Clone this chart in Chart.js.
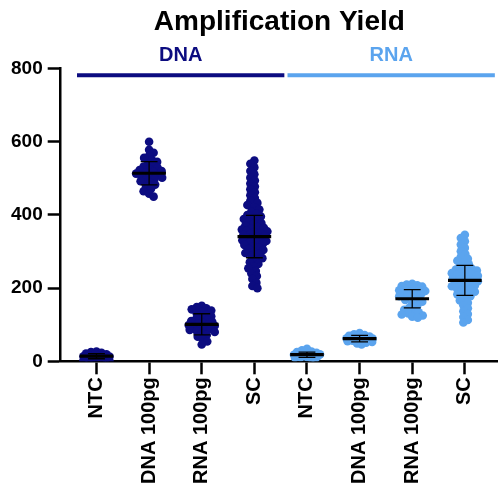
<!DOCTYPE html>
<html>
<head>
<meta charset="utf-8">
<script src="https://cdn.jsdelivr.net/npm/chart.js@4.4.1/dist/chart.umd.min.js"></script>
<style>
  html, body { margin: 0; padding: 0; background: #fff; }
  canvas { display: block; }
</style>
</head>
<body>
<canvas id="mycanvas" width="498" height="493"></canvas>
<script>
// x categories, two groups of four
var categories = ["NTC", "DNA 100pg", "RNA 100pg", "SC", "NTC", "DNA 100pg", "RNA 100pg", "SC"];
var groupOf = [0, 0, 0, 0, 1, 1, 1, 1];
var groupNames = ["DNA", "RNA"];
var groupColors = ["#0c0c80", "#5ba4ee"];
var yTicks = [0, 200, 400, 600, 800];

// yield per sample
var dnaNtc = [27, 25, 23, 21, 19, 18, 17, 16, 15, 14, 13, 12, 11, 10, 9, 8, 7, 5, 3, 1];
var dnaDna100 = [600, 578, 570, 562, 556, 550, 545, 540, 536, 532, 529, 526, 523, 520, 518, 515, 513, 510, 508, 505, 502, 499, 496, 492, 488, 483, 478, 472, 465, 458, 450];
var dnaRna100 = [152, 148, 145, 142, 139, 135, 131, 127, 123, 119, 116, 113, 110, 108, 105, 103, 101, 99, 97, 95, 93, 91, 89, 86, 83, 80, 76, 72, 67, 61, 54, 46];
var dnaSc = [549, 540, 530, 520, 511, 502, 494, 486, 478, 470, 462, 454, 446,
  439, 433, 427, 421, 415, 409, 403, 400, 396, 393, 389, 386, 382, 378, 375, 371,
  367, 365, 362, 360, 357, 355, 353, 350, 348, 345, 343, 341, 338, 336, 333, 331, 329, 326, 324, 321,
  318, 314, 311, 307, 304, 300, 296, 293, 288, 282, 277, 271, 266, 260,
  254, 247, 240, 233, 225, 215, 206, 200];
var rnaNtc = [34, 30, 27, 25, 23, 21, 20, 19, 18, 17, 16, 15, 14, 13, 12, 11, 10, 8, 6];
var rnaDna100 = [77, 74, 72, 70, 68, 67, 66, 65, 64, 63, 62, 61, 60, 59, 58, 57, 56, 55, 53, 51, 49, 46];
var rnaRna100 = [212, 210, 208, 206, 204, 202, 200, 198, 196, 194, 192, 190, 188, 186, 184, 181, 178, 175, 172, 168, 163, 158, 152, 146, 141, 137, 134, 131, 128, 125, 122, 119];
var rnaSc = [346, 337, 328, 319, 310, 301, 293, 286, 280, 275, 270, 265, 260, 256,
  253, 251, 248, 246, 243, 241, 238, 236, 234, 231, 229, 226, 224, 222, 219, 217, 214, 212, 210, 207, 205, 202, 200,
  197, 193, 190, 186, 183, 178, 172, 166, 160, 153, 145, 137, 129, 121, 113, 106];

// mean and SD bars
var means = [14, 514, 101, 341, 18, 62, 171, 221];
var sds = [7, 32, 29, 58, 7, 9, 25, 41];

var samples = [dnaNtc, dnaDna100, dnaRna100, dnaSc, rnaNtc, rnaDna100, rnaRna100, rnaSc];

var FONT = "Arial, 'Liberation Sans', Helvetica, sans-serif";
var PX_PER_X = 52.57, PX_PER_Y = 0.365, R = 4.3;

// simple beeswarm: push each dot sideways until it stops overlapping
function swarm(values) {
  var minD = 2 * R * 0.6, maxHalf = 13, placed = [];
  return values.map(function (v, n) {
    var py = v * PX_PER_Y, pick = null, bestX = 0, bestD = -1;
    for (var k = 0; k <= maxHalf && pick === null; k += 0.5) {
      var cands = k === 0 ? [0] : (n % 2 ? [-k, k] : [k, -k]);
      for (var c = 0; c < cands.length; c++) {
        var near = Infinity;
        for (var j = 0; j < placed.length; j++) {
          var dx = placed[j][0] - cands[c], dy = placed[j][1] - py;
          var dd = Math.sqrt(dx * dx + dy * dy);
          if (dd < near) near = dd;
        }
        if (near >= minD) { pick = cands[c]; break; }
        if (near > bestD) { bestD = near; bestX = cands[c]; }
      }
    }
    if (pick === null) pick = bestX;
    placed.push([pick, py]);
    return pick / PX_PER_X;
  });
}

var datasets = [];

// mean lines and SD whiskers on top
var meanPts = [], sdPts = [];
for (var i = 0; i < categories.length; i++) {
  var m = means[i], s = sds[i];
  meanPts.push({x: i - 0.32, y: m}, {x: i + 0.32, y: m}, {x: i, y: null});
  sdPts.push({x: i, y: m - s}, {x: i, y: m + s}, {x: i, y: null});
  sdPts.push({x: i - 0.16, y: m + s}, {x: i + 0.16, y: m + s}, {x: i, y: null});
  sdPts.push({x: i - 0.16, y: m - s}, {x: i + 0.16, y: m - s}, {x: i, y: null});
}
datasets.push({type: 'line', label: 'Mean', data: meanPts, borderColor: '#000', borderWidth: 3.2,
  pointRadius: 0, spanGaps: false, fill: false, order: 0});
datasets.push({type: 'line', label: 'SD', data: sdPts, borderColor: '#000', borderWidth: 1.3,
  pointRadius: 0, spanGaps: false, fill: false, order: 0});

samples.forEach(function (vals, i) {
  var offs = swarm(vals);
  datasets.push({
    label: categories[i],
    data: vals.map(function (v, k) { return {x: i + offs[k], y: v}; }),
    backgroundColor: groupColors[groupOf[i]],
    borderWidth: 0,
    pointRadius: R,
    pointHoverRadius: R,
    order: 1
  });
});

// DNA / RNA header bars with their labels
var groupHeader = {
  id: 'groupHeader',
  afterDraw: function (chart) {
    var ctx = chart.ctx, xs = chart.scales.x, ys = chart.scales.y;
    var yLine = ys.getPixelForValue(782);
    groupNames.forEach(function (name, g) {
      var idx = [];
      groupOf.forEach(function (v, k) { if (v === g) idx.push(k); });
      var x1 = xs.getPixelForValue(idx[0] - 0.37);
      var x2 = xs.getPixelForValue(idx[idx.length - 1] + 0.57);
      ctx.save();
      ctx.strokeStyle = groupColors[g];
      ctx.lineWidth = 4;
      ctx.beginPath();
      ctx.moveTo(x1, yLine);
      ctx.lineTo(x2, yLine);
      ctx.stroke();
      ctx.fillStyle = groupColors[g];
      ctx.font = 'bold 20px ' + FONT;
      ctx.textAlign = 'center';
      ctx.textBaseline = 'alphabetic';
      ctx.fillText(name, (x1 + x2) / 2, yLine - 14);
      ctx.restore();
    });
  }
};

var ctx = document.getElementById('mycanvas').getContext('2d');
var chart = new Chart(ctx, {
  type: 'scatter',
  data: {datasets: datasets},
  plugins: [groupHeader],
  options: {
    responsive: false,
    animation: false,
    events: [],
    layout: {autoPadding: false, padding: {left: 6, right: 0, top: 0, bottom: 6}},
    plugins: {
      legend: {display: false},
      tooltip: {enabled: false},
      title: {
        display: true,
        text: 'Amplification Yield',
        fullSize: false,
        color: '#000',
        font: {family: FONT, size: 28, weight: 'bold'},
        padding: {top: 5, bottom: 30}
      }
    },
    scales: {
      x: {
        type: 'linear',
        min: -0.68,
        max: 7.63,
        afterBuildTicks: function (axis) {
          axis.ticks = categories.map(function (c, k) { return {value: k}; });
        },
        border: {display: true, color: '#000', width: 2.5},
        grid: {drawOnChartArea: false, drawTicks: true, tickLength: 13, tickWidth: 2.5, tickColor: '#000'},
        ticks: {
          autoSkip: false,
          minRotation: 90,
          maxRotation: 90,
          padding: 3,
          color: '#000',
          font: {family: FONT, size: 20, weight: 'bold'},
          callback: function (v) { return categories[v]; }
        }
      },
      y: {
        min: 0,
        max: 800,
        afterBuildTicks: function (axis) {
          axis.ticks = yTicks.map(function (v) { return {value: v}; });
        },
        border: {display: true, color: '#000', width: 2.5},
        grid: {drawOnChartArea: false, drawTicks: true, tickLength: 13, tickWidth: 2.5, tickColor: '#000'},
        ticks: {
          padding: 5,
          color: '#000',
          font: {family: FONT, size: 19, weight: 'bold'}
        }
      }
    }
  }
});
</script>
</body>
</html>
